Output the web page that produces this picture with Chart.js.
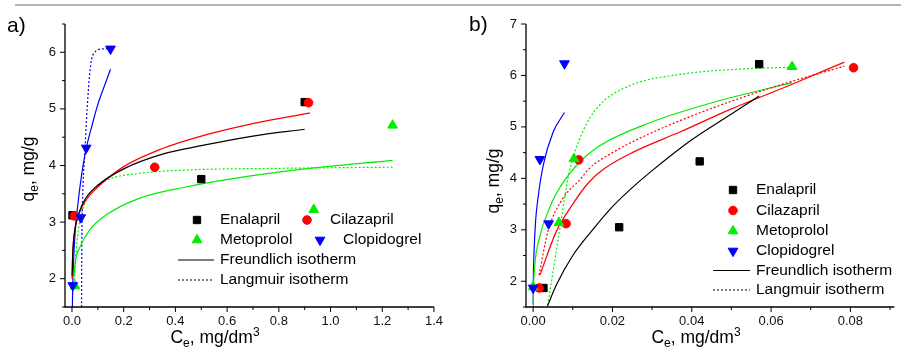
<!DOCTYPE html>
<html lang="en">
<head>
<meta charset="UTF-8">
<title>Adsorption isotherms</title>
<script src="https://cdn.jsdelivr.net/npm/chart.js"></script>
<style>
  body { margin: 0; background: #fff; width: 901px; height: 347px; overflow: hidden; position: relative; }
  .rule { position: absolute; left: 15px; top: 4px; width: 886px; height: 2px; background: #b4b4b4; }
  #wrapA { position: absolute; left: 0; top: 0; width: 450px; height: 347px; }
  #wrapB { position: absolute; left: 450px; top: 0; width: 451px; height: 347px; }
</style>
</head>
<body>
<div class="rule"></div>
<div id="wrapA"><canvas id="chartA" width="450" height="347"></canvas></div>
<div id="wrapB"><canvas id="chartB" width="451" height="347"></canvas></div>
<script>
// ---- panel a) : measured points ----
const aEnalaprilX   = [0.002, 0.5, 0.9];
const aEnalaprilY   = [3.12, 3.76, 5.12];
const aCilazaprilX  = [0.009, 0.32, 0.915];
const aCilazaprilY  = [3.11, 3.97, 5.11];
const aMetoprololX  = [0.012, 0.935, 1.24];
const aMetoprololY  = [1.87, 3.22, 4.71];
const aClopidogrelX = [0.003, 0.034, 0.055, 0.149];
const aClopidogrelY = [1.88, 3.08, 4.31, 6.06];

// panel a) : fitted curves (read off the figure)
const aFreundEnalX = [0.0005, 0.002, 0.005, 0.012, 0.025, 0.05, 0.1, 0.2, 0.35, 0.5, 0.7, 0.9];
const aFreundEnalY = [2.05, 2.34, 2.62, 2.9, 3.14, 3.4, 3.65, 3.94, 4.2, 4.35, 4.52, 4.64];
const aFreundCilaX = [0.0005, 0.002, 0.005, 0.012, 0.025, 0.05, 0.1, 0.2, 0.35, 0.5, 0.7, 0.92];
const aFreundCilaY = [2.0, 2.3, 2.6, 2.88, 3.12, 3.36, 3.62, 3.98, 4.3, 4.52, 4.74, 4.93];
const aFreundMetoX = [0.008, 0.013, 0.03, 0.07, 0.13, 0.26, 0.44, 0.61, 0.9, 1.24];
const aFreundMetoY = [2.05, 2.3, 2.55, 2.87, 3.12, 3.42, 3.62, 3.76, 3.94, 4.09];
const aLangMetoX   = [0.009, 0.014, 0.02, 0.032, 0.05, 0.07, 0.134, 0.26, 0.44, 0.8, 1.24];
const aLangMetoY   = [1.9, 2.35, 2.68, 3.06, 3.34, 3.52, 3.74, 3.86, 3.92, 3.95, 3.97];
const aFreundClopX = [0.0015, 0.003, 0.006, 0.012, 0.02, 0.038, 0.055, 0.08, 0.1, 0.125, 0.149];
const aFreundClopY = [1.5, 1.9, 2.3, 2.8, 3.2, 3.86, 4.3, 4.75, 5.08, 5.4, 5.7];
const aLangClopX   = [0.037, 0.038, 0.040, 0.043, 0.048, 0.051, 0.056, 0.061, 0.068, 0.076, 0.088, 0.102, 0.125, 0.149];
const aLangClopY   = [1.5, 2.5, 3.2, 3.7, 4.1, 4.35, 4.8, 5.17, 5.6, 5.88, 6.0, 6.05, 6.06, 6.07];

// ---- panel b) : measured points ----
const bEnalaprilX   = [0.0026, 0.0217, 0.042, 0.057];
const bEnalaprilY   = [1.87, 3.05, 4.33, 6.22];
const bCilazaprilX  = [0.0015, 0.0083, 0.0115, 0.0808];
const bCilazaprilY  = [1.87, 3.12, 4.36, 6.15];
const bMetoprololX  = [0.0, 0.0065, 0.0103, 0.0653];
const bMetoprololY  = [1.89, 3.14, 4.38, 6.17];
const bClopidogrelX = [0.0, 0.0039, 0.0017, 0.0079];
const bClopidogrelY = [1.87, 3.12, 4.37, 6.23];

// panel b) : fitted curves
const bFreundEnalX = [0.0036, 0.006, 0.01, 0.015, 0.02, 0.025, 0.03, 0.04, 0.05, 0.057];
const bFreundEnalY = [1.52, 1.95, 2.5, 3.0, 3.45, 3.82, 4.15, 4.75, 5.25, 5.6];
const bFreundCilaX = [0.0017, 0.0058, 0.01, 0.014, 0.0178, 0.025, 0.037, 0.05, 0.065, 0.0785];
const bFreundCilaY = [2.12, 2.96, 3.5, 3.92, 4.18, 4.5, 4.9, 5.35, 5.82, 6.26];
const bLangCilaX   = [0.0015, 0.0037, 0.0074, 0.012, 0.014, 0.02, 0.028, 0.037, 0.05, 0.065, 0.0785];
const bLangCilaY   = [2.12, 2.96, 3.6, 3.99, 4.18, 4.5, 4.82, 5.12, 5.5, 5.88, 6.18];
const bFreundMetoX = [0.00003, 0.0001, 0.0004, 0.0016, 0.004, 0.0058, 0.0108, 0.0165, 0.029, 0.0455, 0.0653];
const bFreundMetoY = [1.5, 1.85, 2.3, 2.85, 3.4, 3.7, 4.24, 4.62, 5.07, 5.48, 5.86];
const bLangMetoX   = [0.0037, 0.0066, 0.0091, 0.0124, 0.0165, 0.024, 0.037, 0.0537, 0.0653];
const bLangMetoY   = [1.54, 2.96, 4.12, 4.89, 5.4, 5.79, 6.02, 6.13, 6.16];
const bFreundClopX = [0.00001, 0.00005, 0.0002, 0.0006, 0.0012, 0.0025, 0.005, 0.0079];
const bFreundClopY = [1.55, 2.0, 2.5, 3.15, 3.6, 4.24, 4.89, 5.28];

// ---- axes ----
const aXTicks  = [0, 0.1, 0.2, 0.3, 0.4, 0.5, 0.6, 0.7, 0.8, 0.9, 1.0, 1.1, 1.2, 1.3, 1.4];
const aXLabels = ['0.0', '', '0.2', '', '0.4', '', '0.6', '', '0.8', '', '1.0', '', '1.2', '', '1.4'];
const aYTicks  = [1.5, 2, 2.5, 3, 3.5, 4, 4.5, 5, 5.5, 6, 6.5];
const aYLabels = ['', '2', '', '3', '', '4', '', '5', '', '6', ''];
const bXTicks  = [0, 0.01, 0.02, 0.03, 0.04, 0.05, 0.06, 0.07, 0.08, 0.09];
const bXLabels = ['0.00', '', '0.02', '', '0.04', '', '0.06', '', '0.08', ''];
const bYTicks  = [1.5, 2, 2.5, 3, 3.5, 4, 4.5, 5, 5.5, 6, 6.5, 7];
const bYLabels = ['', '2', '', '3', '', '4', '', '5', '', '6', '', '7'];

const drugs = ['Enalapril', 'Cilazapril', 'Metoprolol', 'Clopidogrel'];
const colors = ['#000000', '#ff0000', '#00ee00', '#0000ff'];
const styles = [
  { pointStyle: 'rect', radius: 5.2, rotation: 0 },
  { pointStyle: 'circle', radius: 4.3, rotation: 0 },
  { pointStyle: 'triangle', radius: 5.6, rotation: 0 },
  { pointStyle: 'triangle', radius: 5.6, rotation: 180 }
];

const FONT = '"Liberation Sans", Arial, sans-serif';

function pts(xs, ys) {
  return xs.map((x, i) => ({ x: x, y: ys[i] }));
}

function pointSet(k, xs, ys) {
  return {
    type: 'scatter', label: drugs[k], data: pts(xs, ys),
    backgroundColor: colors[k], borderColor: colors[k], borderWidth: 1,
    pointStyle: styles[k].pointStyle, pointRadius: styles[k].radius,
    pointRotation: styles[k].rotation, showLine: false, clip: false,
    order: 3 - k
  };
}

function curveSet(k, xs, ys, dotted) {
  return {
    type: 'line', label: 'fit', data: pts(xs, ys),
    borderColor: colors[k], borderWidth: 1.2, borderDash: dotted ? [2, 2] : [],
    pointRadius: 0, fill: false, cubicInterpolationMode: 'monotone',
    order: 5
  };
}

function axis(min, max, ticks, labels, pad, size, isX) {
  return {
    type: 'linear', min: min, max: max,
    afterBuildTicks: s => { s.ticks = ticks.map(v => ({ value: v })); },
    afterFit: s => { if (isX) s.height = size; else s.width = size; },
    ticks: {
      autoSkip: false, maxRotation: 0, padding: pad, color: '#111',
      font: { family: FONT, size: 13 },
      callback: (v, i) => labels[i]
    },
    grid: { display: false, drawTicks: false },
    border: { display: false }
  };
}

// draws text pieces with sub/superscripts, centred on (cx, cy)
function drawRich(ctx, parts, cx, cy, rotate) {
  ctx.save();
  ctx.translate(cx, cy);
  if (rotate) ctx.rotate(-Math.PI / 2);
  let total = 0;
  parts.forEach(p => { ctx.font = (p.s ? 12 : 17.5) + 'px ' + FONT; p.w = ctx.measureText(p.t).width; total += p.w; });
  let x = -total / 2;
  ctx.fillStyle = '#000';
  ctx.textBaseline = 'alphabetic';
  ctx.textAlign = 'left';
  parts.forEach(p => {
    ctx.font = (p.s ? 12 : 17.5) + 'px ' + FONT;
    ctx.fillText(p.t, x, p.s === 'sub' ? 4 : (p.s === 'sup' ? -7 : 0));
    x += p.w;
  });
  ctx.restore();
}

function marker(ctx, k, x, y) {
  ctx.save();
  ctx.fillStyle = colors[k];
  ctx.strokeStyle = colors[k];
  ctx.lineWidth = 1;
  Chart.helpers.drawPoint(ctx, { pointStyle: styles[k].pointStyle, radius: styles[k].radius, rotation: styles[k].rotation, borderWidth: 1 }, x, y);
  ctx.restore();
}

const decor = {
  id: 'decor',
  afterDraw(chart, args, o) {
    const ctx = chart.ctx, ca = chart.chartArea;
    const sx = chart.scales.x, sy = chart.scales.y;
    ctx.save();
    ctx.strokeStyle = '#000';
    ctx.lineWidth = 1.3;
    ctx.beginPath();
    ctx.moveTo(ca.left, ca.top);
    ctx.lineTo(ca.left, ca.bottom);
    ctx.lineTo(ca.right, ca.bottom);
    ctx.stroke();
    ctx.lineWidth = 1;
    ctx.beginPath();
    sx.ticks.forEach(t => {
      const p = sx.getPixelForValue(t.value);
      ctx.moveTo(p, ca.bottom);
      ctx.lineTo(p, ca.bottom + (t.label ? 5 : 3));
    });
    sy.ticks.forEach(t => {
      const p = sy.getPixelForValue(t.value);
      ctx.moveTo(ca.left, p);
      ctx.lineTo(ca.left - (t.label ? 5 : 3), p);
    });
    ctx.stroke();

    // axis titles
    drawRich(ctx, [{ t: 'q' }, { t: 'e', s: 'sub' }, { t: ', mg/g' }], o.yTitle[0], o.yTitle[1], true);
    drawRich(ctx, [{ t: 'C' }, { t: 'e', s: 'sub' }, { t: ', mg/dm' }, { t: '3', s: 'sup' }], o.xTitle[0], o.xTitle[1], false);

    // panel letter
    ctx.fillStyle = '#000';
    ctx.font = '21px ' + FONT;
    ctx.textBaseline = 'middle';
    ctx.textAlign = 'left';
    ctx.fillText(o.letter, o.letterPos[0], o.letterPos[1]);

    // legend
    ctx.font = '15.5px ' + FONT;
    o.legendMarks.forEach((m, k) => {
      marker(ctx, k, m[0], m[1]);
      ctx.fillStyle = '#000';
      ctx.fillText(drugs[k], m[2], m[1]);
    });
    const L = o.legendLines;
    ctx.strokeStyle = '#000';
    ctx.lineWidth = 1.2;
    ctx.beginPath();
    ctx.moveTo(L.x0, L.y[0]); ctx.lineTo(L.x1, L.y[0]);
    ctx.stroke();
    ctx.setLineDash([2, 2]);
    ctx.beginPath();
    ctx.moveTo(L.x0, L.y[1]); ctx.lineTo(L.x1, L.y[1]);
    ctx.stroke();
    ctx.setLineDash([]);
    ctx.fillText('Freundlich isotherm', L.tx, L.y[0]);
    ctx.fillText('Langmuir isotherm', L.tx, L.y[1]);
    ctx.restore();
  }
};

function makeChart(id, datasets, scales, padding, decorOpts) {
  return new Chart(document.getElementById(id), {
    type: 'scatter',
    data: { datasets: datasets },
    options: {
      responsive: false, animation: false, devicePixelRatio: 1, events: [],
      layout: { padding: padding },
      scales: scales,
      plugins: { legend: { display: false }, tooltip: { enabled: false }, decor: decorOpts }
    },
    plugins: [decor]
  });
}

makeChart('chartA', [
  pointSet(0, aEnalaprilX, aEnalaprilY),
  pointSet(1, aCilazaprilX, aCilazaprilY),
  pointSet(2, aMetoprololX, aMetoprololY),
  pointSet(3, aClopidogrelX, aClopidogrelY),
  curveSet(0, aFreundEnalX, aFreundEnalY, false),
  curveSet(1, aFreundCilaX, aFreundCilaY, false),
  curveSet(2, aFreundMetoX, aFreundMetoY, false),
  curveSet(2, aLangMetoX, aLangMetoY, true),
  curveSet(3, aFreundClopX, aFreundClopY, false),
  curveSet(3, aLangClopX, aLangClopY, true)
], {
  x: axis(-0.027, 1.4, aXTicks, aXLabels, 7, 40, true),
  y: axis(1.5, 6.5, aYTicks, aYLabels, 9, 65, false)
}, { left: 0, right: 13, top: 24, bottom: 0 }, {
  letter: 'a)', letterPos: [7, 26],
  yTitle: [34, 169], xTitle: [215, 343],
  legendMarks: [[197, 220, 220], [307, 220, 330], [197, 240, 220], [320, 240, 343]],
  legendLines: { x0: 178, x1: 214, tx: 220, y: [260, 280] }
});

makeChart('chartB', [
  pointSet(0, bEnalaprilX, bEnalaprilY),
  pointSet(1, bCilazaprilX, bCilazaprilY),
  pointSet(2, bMetoprololX, bMetoprololY),
  pointSet(3, bClopidogrelX, bClopidogrelY),
  curveSet(0, bFreundEnalX, bFreundEnalY, false),
  curveSet(1, bFreundCilaX, bFreundCilaY, false),
  curveSet(1, bLangCilaX, bLangCilaY, true),
  curveSet(2, bFreundMetoX, bFreundMetoY, false),
  curveSet(2, bLangMetoX, bLangMetoY, true),
  curveSet(3, bFreundClopX, bFreundClopY, false)
], {
  x: axis(-0.0018, 0.0911, bXTicks, bXLabels, 7, 40, true),
  y: axis(1.5, 7, bYTicks, bYLabels, 9, 76, false)
}, { left: 0, right: 0, top: 24, bottom: 0 }, {
  letter: 'b)', letterPos: [19, 25],
  yTitle: [49, 181], xTitle: [246, 343],
  legendMarks: [[283, 190, 306], [283, 210.5, 306], [283, 231, 306], [283, 251, 306]],
  legendLines: { x0: 263, x1: 300, tx: 306, y: [270.5, 290] }
});
</script>
</body>
</html>
